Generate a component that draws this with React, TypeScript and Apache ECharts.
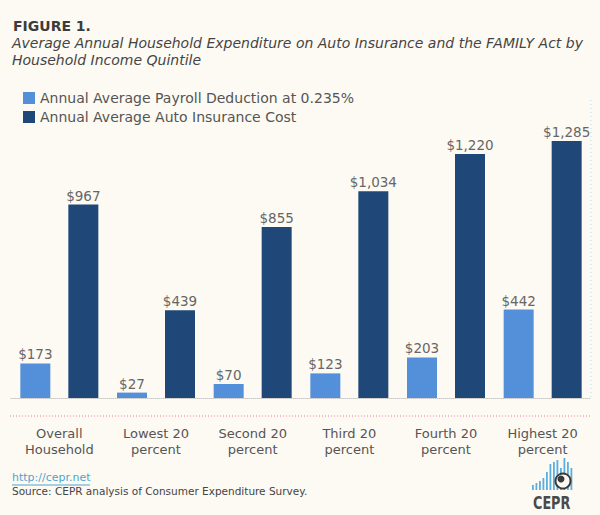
import React, { useEffect, useRef } from "react";
import * as echarts from "echarts";

const categories = [
  "Overall\nHousehold",
  "Lowest 20\npercent",
  "Second 20\npercent",
  "Third 20\npercent",
  "Fourth 20\npercent",
  "Highest 20\npercent",
];
const payrollDeduction = [173, 27, 70, 123, 203, 442];
const autoInsurance = [967, 439, 855, 1034, 1220, 1285];
const seriesNames = [
  "Annual Average Payroll Deduction at 0.235%",
  "Annual Average Auto Insurance Cost",
];

const FONT = "DejaVu Sans, Verdana, sans-serif";
const LIGHT = "#5390d9";
const DARK = "#1f4879";

const logoBars = [5, 7, 9, 12, 18, 26, 28, 30, 22, 32, 28, 22];

export default function App() {
  const ref = useRef<HTMLDivElement>(null);
  useEffect(() => {
    if (!ref.current) return;
    const chart = echarts.init(ref.current, null, { renderer: "svg" });
    const fmt = (p: any) => "$" + Number(p.value).toLocaleString("en-US");
    const logo: any[] = logoBars.map((h, i) => ({
      type: "rect",
      shape: { x: 532 + i * 3.5, y: 490 - h, width: 1.8, height: h },
      style: { fill: "#5aaee0" },
      z: 10,
    }));
    chart.setOption({
      animation: false,
      backgroundColor: "#fdfaf3",
      textStyle: { fontFamily: FONT },
      grid: { left: 11, right: 9, top: 98, bottom: 117, containLabel: false },
      legend: {
        orient: "vertical",
        left: 23,
        top: 91,
        itemWidth: 12,
        itemHeight: 12,
        itemGap: 5,
        icon: "rect",
        selectedMode: false,
        padding: 0,
        textStyle: { fontSize: 14, color: "#555", fontFamily: FONT },
        data: seriesNames,
      },
      xAxis: {
        type: "category",
        data: categories,
        axisTick: { show: false },
        axisLine: { show: true, lineStyle: { color: "#c8c8c8", type: "dotted", width: 1 } },
        axisLabel: {
          fontSize: 13,
          lineHeight: 16,
          color: "#555",
          fontFamily: FONT,
          margin: 27,
          interval: 0,
        },
      },
      yAxis: {
        type: "value",
        min: 0,
        max: 1500,
        show: false,
        splitLine: { show: false },
      },
      series: [
        {
          name: seriesNames[0],
          type: "bar",
          data: payrollDeduction,
          barWidth: 30,
          barGap: "60%",
          itemStyle: { color: LIGHT },
          label: { show: true, position: "top", distance: 2, formatter: fmt, fontSize: 13.5, color: "#666", fontFamily: FONT },
        },
        {
          name: seriesNames[1],
          type: "bar",
          data: autoInsurance,
          barWidth: 30,
          itemStyle: { color: DARK },
          label: { show: true, position: "top", distance: 2, formatter: fmt, fontSize: 13.5, color: "#666", fontFamily: FONT },
        },
      ],
      graphic: [
        {
          type: "text",
          left: 13,
          top: 19,
          style: { text: "FIGURE 1.", font: "bold 14px " + FONT, fill: "#3c3c3c" },
        },
        {
          type: "text",
          left: 12,
          top: 35,
          style: {
            text: "Average Annual Household Expenditure on Auto Insurance and the FAMILY Act by\nHousehold Income Quintile",
            font: "italic 14px " + FONT,
            lineHeight: 16.5,
            fill: "#444",
          },
        },
        {
          type: "line",
          shape: { x1: 10, y1: 416, x2: 592, y2: 416 },
          style: { stroke: "#f07a9a", lineWidth: 1, lineDash: [1, 2] },
        },
        {
          type: "line",
          shape: { x1: 591, y1: 100, x2: 591, y2: 400 },
          style: { stroke: "#b9dcef", lineWidth: 1, lineDash: [1, 3] },
        },
        {
          type: "text",
          left: 12,
          top: 472,
          style: { text: "http://cepr.net", font: "11px " + FONT, fill: "#4fa3cf" },
        },
        {
          type: "line",
          shape: { x1: 12, y1: 485, x2: 90, y2: 485 },
          style: { stroke: "#4fa3cf", lineWidth: 1 },
        },
        {
          type: "text",
          left: 12,
          top: 485,
          style: { text: "Source: CEPR analysis of Consumer Expenditure Survey.", font: "10.5px " + FONT, fill: "#444" },
        },
        ...logo,
        {
          type: "circle",
          shape: { cx: 563, cy: 481, r: 7.5 },
          style: { fill: "#fdfaf3", stroke: "#3a3a3a", lineWidth: 2 },
          z: 11,
        },
        {
          type: "circle",
          shape: { cx: 561, cy: 479, r: 3.5 },
          style: { fill: "#3a3a3a" },
          z: 12,
        },
        {
          type: "text",
          x: 533,
          y: 503,
          scaleX: 0.8,
          scaleY: 1.15,
          style: { text: "CEPR", font: "bold 16px " + FONT, fill: "#4a4a4a", verticalAlign: "middle" },
          z: 12,
        },
      ],
    });
    return () => chart.dispose();
  }, []);
  return (
    <div
      ref={ref}
      style={{ position: "fixed", left: 0, top: 0, width: 600, height: 515 }}
    />
  );
}
